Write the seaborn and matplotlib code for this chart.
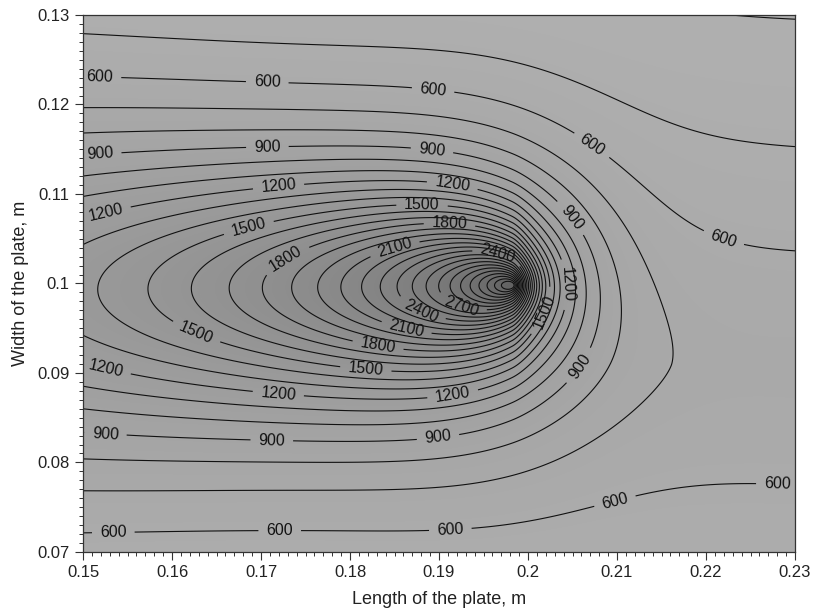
import numpy as np
import matplotlib
matplotlib.use("Agg")
import matplotlib.pyplot as plt
import seaborn as sns
from matplotlib.colors import LinearSegmentedColormap
from matplotlib.ticker import MultipleLocator, FixedLocator

# ---------------- axes, ticks, labels ----------------
x_limits = [0.15, 0.23]
y_limits = [0.07, 0.13]
x_ticks = [0.15, 0.16, 0.17, 0.18, 0.19, 0.20, 0.21, 0.22, 0.23]
x_tick_labels = ["0.15", "0.16", "0.17", "0.18", "0.19", "0.2", "0.21", "0.22", "0.23"]
y_ticks = [0.07, 0.08, 0.09, 0.10, 0.11, 0.12, 0.13]
y_tick_labels = ["0.07", "0.08", "0.09", "0.1", "0.11", "0.12", "0.13"]
x_label = "Length of the plate, m"
y_label = "Width of the plate, m"

# ---------------- isotherm levels ----------------
contour_levels = list(range(400, 3500, 100))
labelled_levels = [600, 900, 1200, 1500, 1800, 2100, 2400, 2700]

# ---------------- temperature field (moving heat source) ----------------
source_x = 0.1982
source_y = 0.0998
peak_scale = 3367.0
advection = 95.0
decay = 106.0
core = 1.3
width_front = 1.0
width_tail = 0.56
width_relax = 0.014
width_smooth = 0.7
front_drop = 80000.0
front_drop_len = 0.0022
front_drop_width = 0.009
bg_base = [300.0, 294.0]
bg_height = [300.0, 380.0]
bg_centre = [0.093, 0.0905]
bg_width = [0.037, 0.0334]
bg_power = [2.0, 1.6]

# label anchor points per labelled isotherm
label_600 = [(0.1519, 0.1230), (0.1707, 0.1225), (0.1893, 0.1213), (0.2070, 0.1152),
             (0.2219, 0.1048), (0.1534, 0.0724), (0.1721, 0.0726), (0.1912, 0.0739),
             (0.2094, 0.0771), (0.2280, 0.0770)]
label_900 = [(0.1519, 0.1149), (0.1707, 0.1159), (0.1893, 0.1157), (0.2058, 0.1081),
             (0.1525, 0.0830), (0.1712, 0.0821), (0.1899, 0.0827), (0.2062, 0.0905)]
label_1200 = [(0.1525, 0.1081), (0.1719, 0.1116), (0.1916, 0.1117), (0.2047, 0.0999),
              (0.1525, 0.0903), (0.1719, 0.0872), (0.1916, 0.0872)]
label_1500 = [(0.1685, 0.1067), (0.1881, 0.1096), (0.2017, 0.0969), (0.1628, 0.0947),
              (0.1817, 0.0896)]
label_1800 = [(0.1725, 0.1033), (0.1912, 0.1072), (0.1830, 0.0922)]
label_2100 = [(0.1847, 0.1050), (0.1862, 0.0944)]
label_2400 = [(0.1965, 0.1029), (0.1879, 0.0967)]
label_2700 = [(0.1927, 0.0980)]
label_sets = [label_600, label_900, label_1200, label_1500,
              label_1800, label_2100, label_2400, label_2700]

shade_temps = [400, 1400, 2500, 3500]
shade_greys = [0.69, 0.60, 0.50, 0.39]

# ---------------- build the field ----------------
gx = np.linspace(x_limits[0], x_limits[1], 1601)
gy = np.linspace(y_limits[0], y_limits[1], 1201)
X, Y = np.meshgrid(gx, gy)

t = (X - x_limits[0]) / (x_limits[1] - x_limits[0])
def lerp(pair):
    return pair[0] + (pair[1] - pair[0]) * t

bg = lerp(bg_base) + lerp(bg_height) * np.exp(
    -(np.abs(Y - lerp(bg_centre)) / lerp(bg_width)) ** lerp(bg_power))

xi = X - source_x
eta = Y - source_y
u = xi / width_relax
blend = np.exp(-width_smooth * np.logaddexp(0.0, -u / width_smooth))
stretch = width_tail + (width_front - width_tail) * blend
r = np.sqrt(xi ** 2 + (eta / stretch) ** 2)
z = decay * r
xi_front = np.maximum(xi, 0.0)
front = np.exp(-front_drop * xi_front ** 2 * np.exp(-xi_front / front_drop_len)
               * np.exp(-(eta / front_drop_width) ** 2))
source = peak_scale * np.exp(-advection * xi) * np.exp(-z) / np.sqrt(z + core) * front
T = bg + source

# ---------------- plot ----------------
sns.set_theme(style="ticks")
plt.rcParams["font.family"] = ["Liberation Sans", "DejaVu Sans"]

fig = plt.figure(figsize=(8.14, 6.16), dpi=100)
ax = fig.add_axes([0.102, 0.104, 0.8747, 0.8717])

nodes = [(tv - shade_temps[0]) / (shade_temps[-1] - shade_temps[0]) for tv in shade_temps]
cmap = LinearSegmentedColormap.from_list(
    "greys_field", [(n, (g, g, g)) for n, g in zip(nodes, shade_greys)])

ax.imshow(T, extent=[x_limits[0], x_limits[1], y_limits[0], y_limits[1]], origin="lower",
          cmap=cmap, vmin=shade_temps[0], vmax=shade_temps[-1], aspect="auto",
          interpolation="bilinear")

line_kw = dict(colors="#111111", linewidths=0.8)
plain_levels = [lv for lv in contour_levels if lv not in labelled_levels]
ax.contour(X, Y, T, levels=plain_levels, **line_kw)
for lv, pos in zip(labelled_levels, label_sets):
    cs_one = ax.contour(X, Y, T, levels=[lv], **line_kw)
    ax.clabel(cs_one, manual=pos, inline=True, fmt="%d", fontsize=11.5, inline_spacing=8)

ax.set_xlim(*x_limits)
ax.set_ylim(*y_limits)
ax.xaxis.set_major_locator(FixedLocator(x_ticks))
ax.set_xticklabels(x_tick_labels)
ax.yaxis.set_major_locator(FixedLocator(y_ticks))
ax.set_yticklabels(y_tick_labels)
ax.xaxis.set_minor_locator(MultipleLocator(0.001))
ax.yaxis.set_minor_locator(MultipleLocator(0.001))
ax.tick_params(which="major", direction="out", length=6, width=0.8, labelsize=12,
               colors="#333333", labelcolor="#222222", top=False, right=False)
ax.tick_params(which="minor", direction="out", length=3, width=0.7, colors="#333333",
               top=False, right=False)
for sp in ax.spines.values():
    sp.set_visible(True)
    sp.set_color("#333333")
    sp.set_linewidth(0.9)

ax.set_xlabel(x_label, fontsize=13, color="#222222", labelpad=8)
ax.set_ylabel(y_label, fontsize=13, color="#222222", labelpad=6)

fig.savefig("out.png", dpi=100)
